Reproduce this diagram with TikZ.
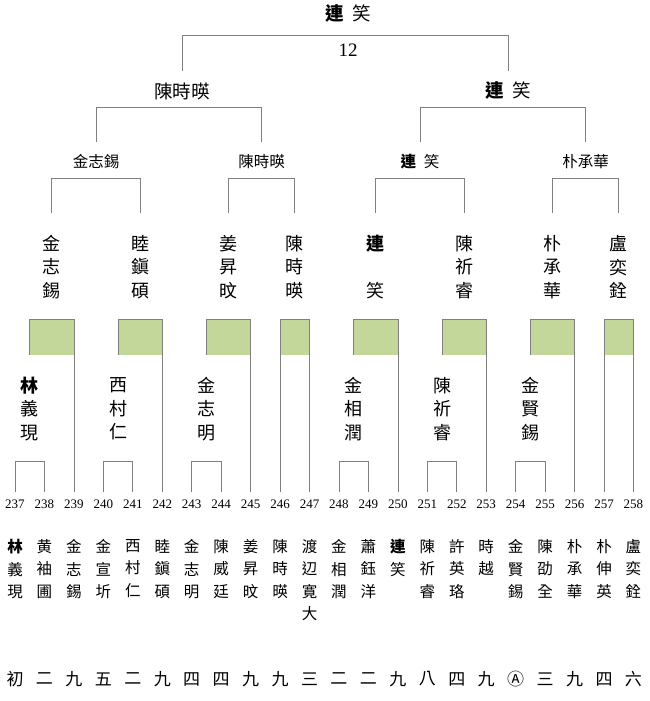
\documentclass[tikz,border=0pt]{standalone}
\usepackage{fontspec}
\setmainfont{Liberation Serif}
\newfontfamily\cjk{Noto Sans CJK TC}
\definecolor{boxgreen}{HTML}{C4D79B}
\colorlet{tieline}{black!50}
\tikzset{
  tie/.style={draw=tieline, line width=0.7pt},
  seed/.style={font=\fontsize{13}{14}\selectfont, inner sep=0pt},
  player/.style={font=\cjk\fontsize{15.5}{22.5}\selectfont, align=center, anchor=north, inner sep=0pt},
  grade/.style={font=\cjk\fontsize{17}{18}\selectfont, inner sep=0pt},
  winner/.style={font=\cjk\fontsize{18}{23.5}\selectfont, align=center, inner sep=0pt},
  third/.style={font=\cjk\fontsize{15.5}{18}\selectfont, inner sep=0pt},
  second/.style={font=\cjk\fontsize{18.5}{20}\selectfont, inner sep=0pt}
}

\begin{document}
\begin{tikzpicture}[x=1pt, y=-1pt]
    \useasboundingbox (0,0) rectangle (650,701);

    % heights of the bracket levels
    \coordinate (foot) at (0,492);
    \coordinate (pairtop) at (0,461);
    \coordinate (boxtop) at (0,319);
    \coordinate (boxbot) at (0,355);
    \coordinate (r2bot) at (0,213);
    \coordinate (r2top) at (0,178);
    \coordinate (r3bot) at (0,142);
    \coordinate (r3top) at (0,107);
    \coordinate (r4bot) at (0,71);
    \coordinate (r4top) at (0,35);

    % seeds, players, grades
    \foreach \num/\who/\grade [count=\i from 0] in {
      237/{{\bfseries 林}\\義\\現}/初, 238/{黄\\袖\\圃}/二, 239/{金\\志\\錫}/九,
      240/{金\\宣\\圻}/五, 241/{西\\村\\仁}/二, 242/{睦\\鎭\\碩}/九,
      243/{金\\志\\明}/四, 244/{陳\\威\\廷}/四, 245/{姜\\昇\\旼}/九,
      246/{陳\\時\\暎}/九, 247/{渡\\辺\\寛\\大}/三,
      248/{金\\相\\潤}/二, 249/{蕭\\鈺\\洋}/二, 250/{{\bfseries 連}\\笑}/九,
      251/{陳\\祈\\睿}/八, 252/{許\\英\\珞}/四, 253/{時\\越}/九,
      254/{金\\賢\\錫}/Ⓐ, 255/{陳\\劭\\全}/三, 256/{朴\\承\\華}/九,
      257/{朴\\伸\\英}/四, 258/{盧\\奕\\銓}/六}
    {
      \node[seed] (n\i) at (15+29.45*\i, 504) {\num};
      \node[player] (p\i) at (15+29.45*\i, 539.2) {\who};
      \node[grade] (g\i) at (15+29.45*\i, 679) {\grade};
    }

    % first round
    \foreach \a/\b in {0/1, 3/4, 6/7, 11/12, 14/15, 17/18}
      \draw[tie] (n\a |- foot) |- (n\b |- pairtop) -- (n\b |- foot);

    \node[winner] (w1) at (29.7,409) {{\bfseries 林}\\義\\現};
    \node[winner] (w2) at (118.1,409) {西\\村\\仁};
    \node[winner] (w3) at (206.4,409) {金\\志\\明};
    \node[winner] (w4) at (353.7,409) {金\\相\\潤};
    \node[winner] (w5) at (442,409) {陳\\祈\\睿};
    \node[winner] (w6) at (530.4,409) {金\\賢\\錫};

    % green boxes
    \foreach \l/\r in {w1/n2, w2/n5, w3/n8, n9/n10, w4/n13, w5/n16, w6/n19, n20/n21} {
      \fill[boxgreen] (\l |- boxtop) rectangle (\r |- boxbot);
      \draw[tie] (\l |- boxbot) |- (\r |- boxtop) -- (\r |- foot);
    }
    \draw[tie] (n9 |- foot) -- (n9 |- boxbot);
    \draw[tie] (n20 |- foot) -- (n20 |- boxbot);

    % second round
    \node[winner] (s1) at (51.8,267) {金\\志\\錫};
    \node[winner] (s2) at (140.2,267) {睦\\鎭\\碩};
    \node[winner] (s3) at (228.5,267) {姜\\昇\\旼};
    \node[winner] (s4) at (294.8,267) {陳\\時\\暎};
    \node[winner] (s5) at (375.8,267) {{\bfseries 連}\\{}\\笑};
    \node[winner] (s6) at (464.1,267) {陳\\祈\\睿};
    \node[winner] (s7) at (552.5,267) {朴\\承\\華};
    \node[winner] (s8) at (618.7,267) {盧\\奕\\銓};

    \foreach \a/\b in {s1/s2, s3/s4, s5/s6, s7/s8}
      \draw[tie] (\a |- r2bot) |- (\b |- r2top) -- (\b |- r2bot);

    \node[third] (q1) at (96,162) {金志錫};
    \node[third] (q2) at (261.7,162) {陳時暎};
    \node[third] (q3) at (420,162) {{\bfseries 連}\hspace{0.5em}笑};
    \node[third] (q4) at (585.6,162) {朴承華};

    \foreach \a/\b in {q1/q2, q3/q4}
      \draw[tie] (\a |- r3bot) |- (\b |- r3top) -- (\b |- r3bot);

    \node[second] (h1) at (182,91) {陳時暎};
    \node[second] (h2) at (508,91) {{\bfseries 連}\hspace{0.45em}笑};

    \draw[tie] (h1 |- r4bot) |- (h2 |- r4top) -- (h2 |- r4bot);

    \node[second] (champ) at (348,14) {{\bfseries 連}\hspace{0.45em}笑};
    \node[font=\fontsize{19}{21}\selectfont, inner sep=0pt] (score) at (348,50) {12};
\end{tikzpicture}
\end{document}
